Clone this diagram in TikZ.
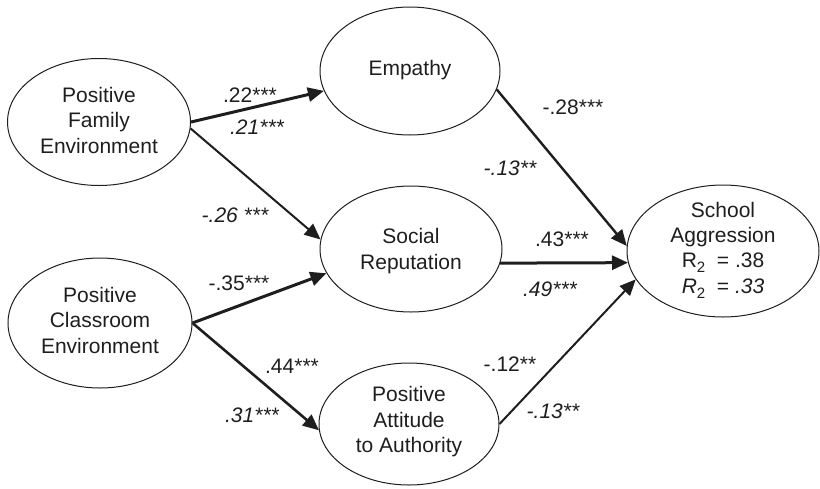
\documentclass[tikz,border=0pt]{standalone}
\usepackage{fontspec}
\setmainfont{Liberation Sans}
\usetikzlibrary{shapes.geometric,arrows.meta}
\definecolor{ink}{HTML}{1E1E1E}
\tikzset{
  ell/.style={draw=ink, line width=1pt, ellipse, inner sep=0pt},
  txt/.style={align=center, inner sep=0pt, text=ink, font=\fontsize{21}{25.5}\selectfont},
  coef/.style={inner sep=0pt, text=ink, font=\fontsize{21}{25}\selectfont},
  icoef/.style={coef, font=\fontsize{21}{25}\selectfont\itshape},
  arr/.style={draw=ink, -{Triangle[length=16pt,width=14pt]}},
}
\newcommand{\subtwo}{\raisebox{-0.45ex}{\fontsize{15}{15}\selectfont\upshape 2}}
\begin{document}
\begin{tikzpicture}[x=1pt,y=-1pt]
\useasboundingbox (0,0) rectangle (820,488);
% ellipses
\node[ell, minimum width=183pt, minimum height=127pt] (fam) at (99,122) {};
\node[ell, minimum width=184pt, minimum height=130pt] (cls) at (100,323) {};
\node[ell, minimum width=180pt, minimum height=128pt] (emp) at (410,71) {};
\node[ell, minimum width=182pt, minimum height=126pt] (soc) at (411,249) {};
\node[ell, minimum width=180pt, minimum height=122pt] (att) at (409,424) {};
\node[ell, minimum width=192pt, minimum height=132pt] (agg) at (723,251) {};
% texts
\node[txt] (famt) at (99,120) {Positive\\Family\\Environment};
\node[txt] (clst) at (100,320) {Positive\\Classroom\\Environment};
\node[txt] (empt) at (410,70) {Empathy};
\node[txt] (soct) at (411,251) {Social\\Reputation};
\node[txt] (attt) at (409,422) {Positive\\Attitude\\to Authority};
\node[txt, font=\fontsize{21}{25.3}\selectfont] (aggt) at (723,250) {School\\Aggression\\R\subtwo\ \ = .38\\\textit{R}\subtwo\ \ = \textit{.33}};
% connectors
\draw[arr, line width=3pt] (fam.east) -- (emp.193);
\draw[arr, line width=2pt] (fam.356) -- (soc.174);
\draw[arr, line width=3pt] (cls.east) -- (soc.196);
\draw[arr, line width=2.6pt] (cls.east) -- (att.184);
\draw[arr, line width=2.4pt] (emp.-12) -- (agg.177);
\draw[arr, line width=3pt] (soc.-9) -- (agg.187);
\draw[arr, line width=2pt] (att.east) -- (agg.198);
% coefficients
\node[coef] (c1) at (250,95) {.22***};
\node[icoef] (c2) at (257,127) {.21***};
\node[icoef] (c3) at (235,215) {-.26 ***};
\node[coef] (c4) at (573,107) {-.28***};
\node[icoef] (c5) at (510,168) {-.13**};
\node[coef] (c6) at (562,239) {.43***};
\node[icoef] (c7) at (550,289) {.49***};
\node[coef] (c8) at (239,283) {-.35***};
\node[coef] (c9) at (292,366) {.44***};
\node[icoef] (c10) at (252,415) {.31***};
\node[coef] (c11) at (510,364) {-.12**};
\node[icoef] (c12) at (553,411) {-.13**};
\end{tikzpicture}
\end{document}
